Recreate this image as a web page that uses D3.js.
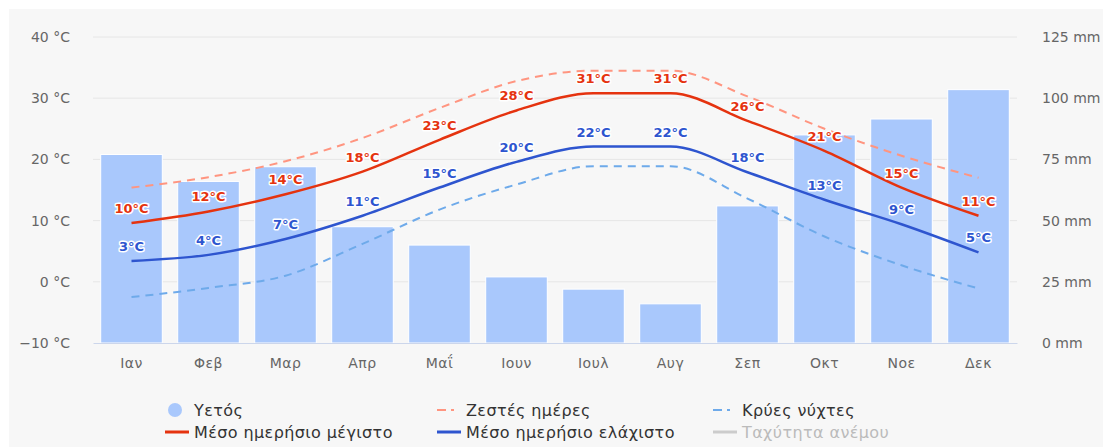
<html lang="el">
<head>
<meta charset="UTF-8">
<title>Κλίμα</title>
<style>
  body { margin: 0; background: #fff; }
  svg { display: block; font-family: "DejaVu Sans", sans-serif; }
</style>
</head>
<body>
<script src="https://d3js.org/d3.v7.min.js"></script>
<script>
  // data
  const months = ["Ιαν", "Φεβ", "Μαρ", "Απρ", "Μαΐ", "Ιουν", "Ιουλ", "Αυγ", "Σεπ", "Οκτ", "Νοε", "Δεκ"]
  const rain = [77, 66, 72, 47.5, 40, 27, 22, 16, 56, 85, 91.5, 103.5]
  const tMax = [9.6, 11.5, 14.3, 18.0, 23.2, 28.0, 30.8, 30.8, 26.3, 21.4, 15.4, 10.8]
  const tMin = [3.4, 4.4, 7.0, 10.8, 15.4, 19.6, 22.1, 22.1, 17.9, 13.4, 9.4, 4.8]
  const warmDays = [15.4, 17.1, 19.7, 23.5, 28.4, 32.8, 34.5, 34.5, 30.3, 25.0, 20.6, 17.0]
  const coldNights = [-2.5, -1.0, 1.0, 6.2, 11.8, 15.9, 18.9, 18.9, 13.6, 7.4, 2.7, -1.1]
  const tempTicks = [-10, 0, 10, 20, 30, 40]
  const rainTicks = [0, 25, 50, 75, 100, 125]

  const width = 1103, height = 447
  const mLeft = 93, mRight = 1017, mTop = 37, mBottom = 343
  const font = "DejaVu Sans, sans-serif"

  const cBar = "#a9c8fc", cMax = "#e5330f", cMin = "#2e55cf",
        cWarm = "#ff9580", cCold = "#6eaaea"

  const svg = d3.select("body").append("svg")
    .attr("width", width).attr("height", height)

  svg.append("rect").attr("x", 9).attr("y", 9)
    .attr("width", width - 9).attr("height", height - 9).attr("fill", "#f7f7f7")

  const x = d3.scaleBand().domain(months).range([mLeft, mRight])
  const xBar = d3.scaleBand().domain(months).range([mLeft, mRight])
    .paddingInner(0.2).paddingOuter(0.1)
  const yT = d3.scaleLinear().domain([-10, 40]).range([mBottom, mTop])
  const yR = d3.scaleLinear().domain([0, 125]).range([mBottom, mTop])
  const cx = m => x(m) + x.bandwidth() / 2

  // grid
  svg.append("g").selectAll("line").data(tempTicks.slice(1)).join("line")
    .attr("x1", mLeft).attr("x2", mRight)
    .attr("y1", d => yT(d)).attr("y2", d => yT(d))
    .attr("stroke", "#e6e6e6").attr("stroke-width", 1)

  // left axis
  const axL = svg.append("g").attr("transform", `translate(${mLeft - 20},0)`)
    .call(d3.axisLeft(yT).tickValues(tempTicks).tickSize(0)
      .tickFormat(d => (d < 0 ? "−" + Math.abs(d) : d) + " °C"))
  axL.select(".domain").remove()
  axL.selectAll("text").attr("fill", "#666").attr("font-size", 14)
    .attr("font-family", font).attr("dx", 0)

  // right axis
  const axR = svg.append("g").attr("transform", `translate(${mRight + 22},0)`)
    .call(d3.axisRight(yR).tickValues(rainTicks).tickSize(0).tickFormat(d => d + " mm"))
  axR.select(".domain").remove()
  axR.selectAll("text").attr("fill", "#666").attr("font-size", 14)
    .attr("font-family", font).attr("dx", 0)

  // bars
  svg.append("g").selectAll("rect").data(months).join("rect")
    .attr("x", m => xBar(m)).attr("width", xBar.bandwidth())
    .attr("y", (m, i) => yR(rain[i])).attr("height", (m, i) => yR(0) - yR(rain[i]))
    .attr("fill", cBar).attr("stroke", "#fff").attr("stroke-width", 1)

  // bottom axis
  const axB = svg.append("g").attr("transform", `translate(0,${mBottom})`)
    .call(d3.axisBottom(x).tickSize(0).tickPadding(15))
  axB.select(".domain").attr("stroke", "#ccd6eb")
  axB.selectAll("text").attr("fill", "#666").attr("font-size", 14)
    .attr("font-family", font).attr("letter-spacing", 0.5)

  const line = d3.line().curve(d3.curveMonotoneX)
    .x((d, i) => cx(months[i])).y(d => yT(d))

  function series(vals, color, w, dash) {
    svg.append("path").datum(vals).attr("d", line)
      .attr("fill", "none").attr("stroke", color).attr("stroke-width", w)
      .attr("stroke-dasharray", dash)
  }
  series(warmDays, cWarm, 2, "8,6")
  series(coldNights, cCold, 2, "8,6")
  series(tMax, cMax, 2.5, null)
  series(tMin, cMin, 2.5, null)

  function labels(vals, color) {
    svg.append("g").selectAll("text").data(vals).join("text")
      .attr("x", (d, i) => cx(months[i])).attr("y", d => yT(d) - 10)
      .attr("text-anchor", "middle").attr("font-size", 13).attr("font-weight", "bold")
      .attr("font-family", font)
      .attr("fill", color).attr("stroke", "#fff").attr("stroke-width", 3)
      .attr("stroke-linejoin", "round").attr("paint-order", "stroke")
      .text(d => Math.round(d) + "°C")
  }
  labels(tMax, cMax)
  labels(tMin, cMin)

  // legend
  const legendItems = [
    { name: "Υετός", type: "circle", color: cBar, col: 0, row: 0 },
    { name: "Ζεστές ημέρες", type: "dash", color: cWarm, col: 1, row: 0 },
    { name: "Κρύες νύχτες", type: "dash", color: cCold, col: 2, row: 0 },
    { name: "Μέσο ημερήσιο μέγιστο", type: "line", color: cMax, col: 0, row: 1 },
    { name: "Μέσο ημερήσιο ελάχιστο", type: "line", color: cMin, col: 1, row: 1 },
    { name: "Ταχύτητα ανέμου", type: "line", color: "#ccc", col: 2, row: 1, hidden: true }
  ]
  const colX = [165, 437, 713], rowY = [410, 432]
  const lg = svg.append("g").selectAll("g").data(legendItems).join("g")
    .attr("transform", d => `translate(${colX[d.col]},${rowY[d.row]})`)
  lg.filter(d => d.type === "circle").append("circle")
    .attr("cx", 10).attr("cy", 0).attr("r", 7).attr("fill", d => d.color)
  lg.filter(d => d.type === "line").append("line")
    .attr("x1", 0).attr("x2", 24).attr("y1", 0).attr("y2", 0)
    .attr("stroke", d => d.color).attr("stroke-width", 3)
  lg.filter(d => d.type === "dash").append("line")
    .attr("x1", 0).attr("x2", 24).attr("y1", 0).attr("y2", 0)
    .attr("stroke", d => d.color).attr("stroke-width", 2).attr("stroke-dasharray", "9,5,3,7")
  lg.append("text").attr("x", 29).attr("y", 6)
    .attr("font-size", 16).attr("letter-spacing", 0.4).attr("font-family", font)
    .attr("fill", d => d.hidden ? "#bbb" : "#333")
    .text(d => d.name)
</script>
</body>
</html>
